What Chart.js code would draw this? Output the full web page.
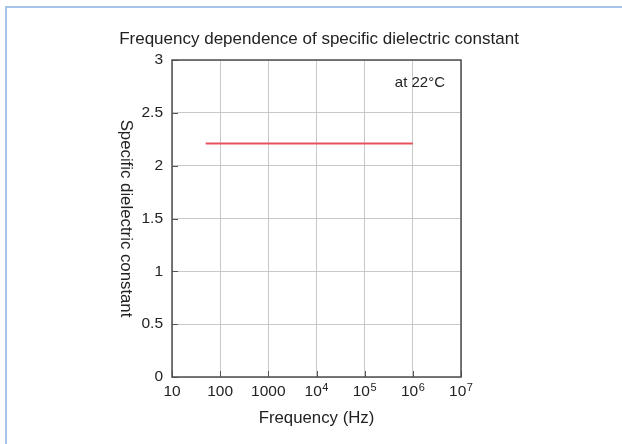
<!DOCTYPE html>
<html>
<head>
<meta charset="utf-8">
<script src="https://cdn.jsdelivr.net/npm/chart.js@4/dist/chart.umd.min.js"></script>
<style>
html,body{margin:0;padding:0;background:#fff;}
canvas{display:block;}
</style>
</head>
<body>
<canvas id="c" width="622" height="444"></canvas>
<script>
const chartTitle = 'Frequency dependence of specific dielectric constant';
const xAxisTitle = 'Frequency (Hz)';
const yAxisTitle = 'Specific dielectric constant';
const noteText = 'at 22°C';

const freqHz = [50, 1000000];
const dielectricConstant = [2.21, 2.21];

const xTickValues = [10, 100, 1000, 1e4, 1e5, 1e6, 1e7];
const xTickBase = ['10', '100', '1000', '10', '10', '10', '10'];
const xTickExp = ['', '', '', '4', '5', '6', '7'];

const yTickValues = [0, 0.5, 1, 1.5, 2, 2.5, 3];
const yTickLabels = ['0', '0.5', '1', '1.5', '2', '2.5', '3'];

const FONT = '"Liberation Sans", Arial, Helvetica, sans-serif';
const TEXT = '#222';

const decorPlugin = {
  id: 'decor',
  beforeDraw(chart) {
    const ctx = chart.ctx;
    ctx.save();
    ctx.fillStyle = '#fff';
    ctx.fillRect(0, 0, chart.width, chart.height);
    // frame (top and left)
    ctx.strokeStyle = '#8db0e2';
    ctx.lineWidth = 1.5;
    ctx.beginPath();
    ctx.moveTo(6, chart.height);
    ctx.lineTo(6, 7);
    ctx.lineTo(chart.width, 7);
    ctx.stroke();
    ctx.restore();
  },
  afterDraw(chart) {
    const ctx = chart.ctx;
    const a = chart.chartArea;
    const xs = chart.scales.x, ys = chart.scales.y;
    ctx.save();
    // inward tick marks
    ctx.strokeStyle = '#555';
    ctx.lineWidth = 1;
    ctx.beginPath();
    xTickValues.forEach(v => {
      const px = Math.round(xs.getPixelForValue(v)) + 0.5;
      ctx.moveTo(px, a.bottom);
      ctx.lineTo(px, a.bottom - 6);
    });
    yTickValues.forEach(v => {
      const py = Math.round(ys.getPixelForValue(v)) + 0.5;
      ctx.moveTo(a.left, py);
      ctx.lineTo(a.left + 6, py);
    });
    ctx.stroke();
    // plot box
    ctx.strokeStyle = '#4d4d4d';
    ctx.lineWidth = 1.5;
    ctx.strokeRect(a.left, a.top, a.right - a.left, a.bottom - a.top);

    // x tick labels with superscripts
    ctx.fillStyle = TEXT;
    ctx.textBaseline = 'alphabetic';
    ctx.textAlign = 'left';
    xTickValues.forEach((v, i) => {
      const px = xs.getPixelForValue(v);
      ctx.font = '15.5px ' + FONT;
      const wb = ctx.measureText(xTickBase[i]).width;
      let we = 0;
      if (xTickExp[i]) {
        ctx.font = '11px ' + FONT;
        we = ctx.measureText(xTickExp[i]).width + 0.5;
      }
      const x0 = px - (wb + we) / 2;
      ctx.font = '15.5px ' + FONT;
      ctx.fillText(xTickBase[i], x0, 396);
      if (xTickExp[i]) {
        ctx.font = '11px ' + FONT;
        ctx.fillText(xTickExp[i], x0 + wb + 0.5, 390.5);
      }
    });

    // chart title
    ctx.font = '17px ' + FONT;
    ctx.textAlign = 'center';
    ctx.fillText(chartTitle, 319, 44);
    // x axis title
    ctx.font = '16.8px ' + FONT;
    ctx.fillText(xAxisTitle, (a.left + a.right) / 2, 423);
    // y axis title (reads top-to-bottom)
    ctx.save();
    ctx.translate(125.5, (a.top + a.bottom) / 2);
    ctx.rotate(Math.PI / 2);
    ctx.textBaseline = 'middle';
    ctx.fillText(yAxisTitle, 0, 0);
    ctx.restore();
    // note
    ctx.font = '15px ' + FONT;
    ctx.textAlign = 'right';
    ctx.fillText(noteText, 445, 87);
    ctx.restore();
  }
};

new Chart(document.getElementById('c'), {
  type: 'line',
  data: {
    datasets: [{
      data: freqHz.map((f, i) => ({ x: f, y: dielectricConstant[i] })),
      borderColor: '#e5525c',
      borderWidth: 2,
      pointRadius: 0,
      tension: 0,
      fill: false
    }]
  },
  options: {
    responsive: false,
    animation: false,
    devicePixelRatio: 1,
    layout: { padding: { left: 0, top: 60, right: 161, bottom: 0 } },
    plugins: { legend: { display: false }, tooltip: { enabled: false }, title: { display: false } },
    scales: {
      x: {
        type: 'logarithmic',
        min: 10,
        max: 1e7,
        afterBuildTicks: s => { s.ticks = xTickValues.map(v => ({ value: v })); },
        afterFit: s => { s.height = 67; },
        ticks: { display: false },
        grid: { color: '#c8c8c8', lineWidth: 1, drawTicks: false },
        border: { display: false }
      },
      y: {
        type: 'linear',
        min: 0,
        max: 3,
        afterBuildTicks: s => { s.ticks = yTickValues.map(v => ({ value: v })); },
        afterFit: s => { s.width = 172; },
        ticks: {
          callback: v => yTickLabels[yTickValues.indexOf(v)],
          color: TEXT,
          font: { family: FONT, size: 15.5 },
          padding: 9
        },
        grid: { color: '#c8c8c8', lineWidth: 1, drawTicks: false },
        border: { display: false }
      }
    }
  },
  plugins: [decorPlugin]
});
</script>
</body>
</html>
